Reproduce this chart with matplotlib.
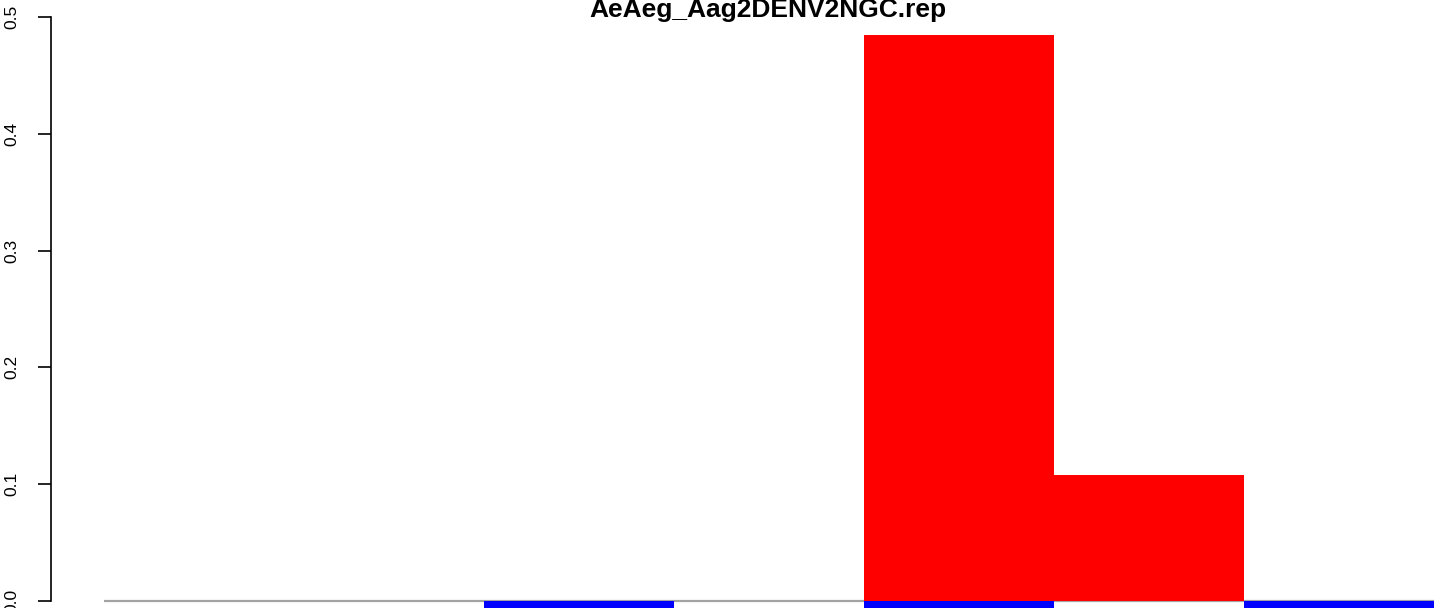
import matplotlib
matplotlib.use("Agg")
import matplotlib.pyplot as plt

plt.rcParams['font.family'] = ['Liberation Sans', 'DejaVu Sans']

title = "AeAeg_Aag2DENV2NGC.rep"
positions = [0, 1, 2, 3, 4, 5, 6]
red_values = [0, 0, 0, 0, 0.485, 0.108, 0]
blue_values = [0, 0, -0.01, 0, -0.01, 0, -0.01]
yticks = [0.0, 0.1, 0.2, 0.3, 0.4, 0.5]
ytick_labels = ["0.0", "0.1", "0.2", "0.3", "0.4", "0.5"]

W, H = 1444, 608
fig = plt.figure(figsize=(W / 100, H / 100), dpi=100)

# pixel geometry
left_px = 50.5
bar0_px = 103.5
bar_w_px = 190.0
y0_px = 601.0
y05_px = 17.0
per_unit = (y0_px - y05_px) / 0.5
ybottom = -0.02
bottom_px = y0_px - ybottom * per_unit  # from top

xl = (left_px - bar0_px) / bar_w_px
xr = (W - bar0_px) / bar_w_px

ax = fig.add_axes([left_px / W, 1 - bottom_px / H, (W - left_px) / W, (bottom_px - y05_px) / H])
ax.set_xlim(xl, xr)
ax.set_ylim(ybottom, 0.5)

centers = [p + 0.5 for p in positions]
ax.bar(centers, red_values, width=1.0, color='#FF0000', edgecolor='none', zorder=2)
ax.bar(centers, blue_values, width=1.0, color='#0000FF', edgecolor='none', zorder=3)
ax.hlines(0, positions[0], positions[-1] + 1, color='#A3A3A3', lw=1.6, zorder=1)

for s in ['top', 'right', 'bottom']:
    ax.spines[s].set_visible(False)
ax.spines['left'].set_bounds(0, 0.5)
ax.spines['left'].set_linewidth(1.2)
ax.set_xticks([])
ax.set_yticks(yticks)
ax.set_yticklabels(ytick_labels, rotation=90, va='center', fontsize=12.5)
ax.tick_params(axis='y', length=9.5, width=1.2, pad=13)
ax.patch.set_visible(False)

fig.text(767.5 / W, 1 - 17 / H, title, ha='center', va='baseline',
         fontsize=19, fontweight='bold')

fig.savefig("out.png", dpi=100)
